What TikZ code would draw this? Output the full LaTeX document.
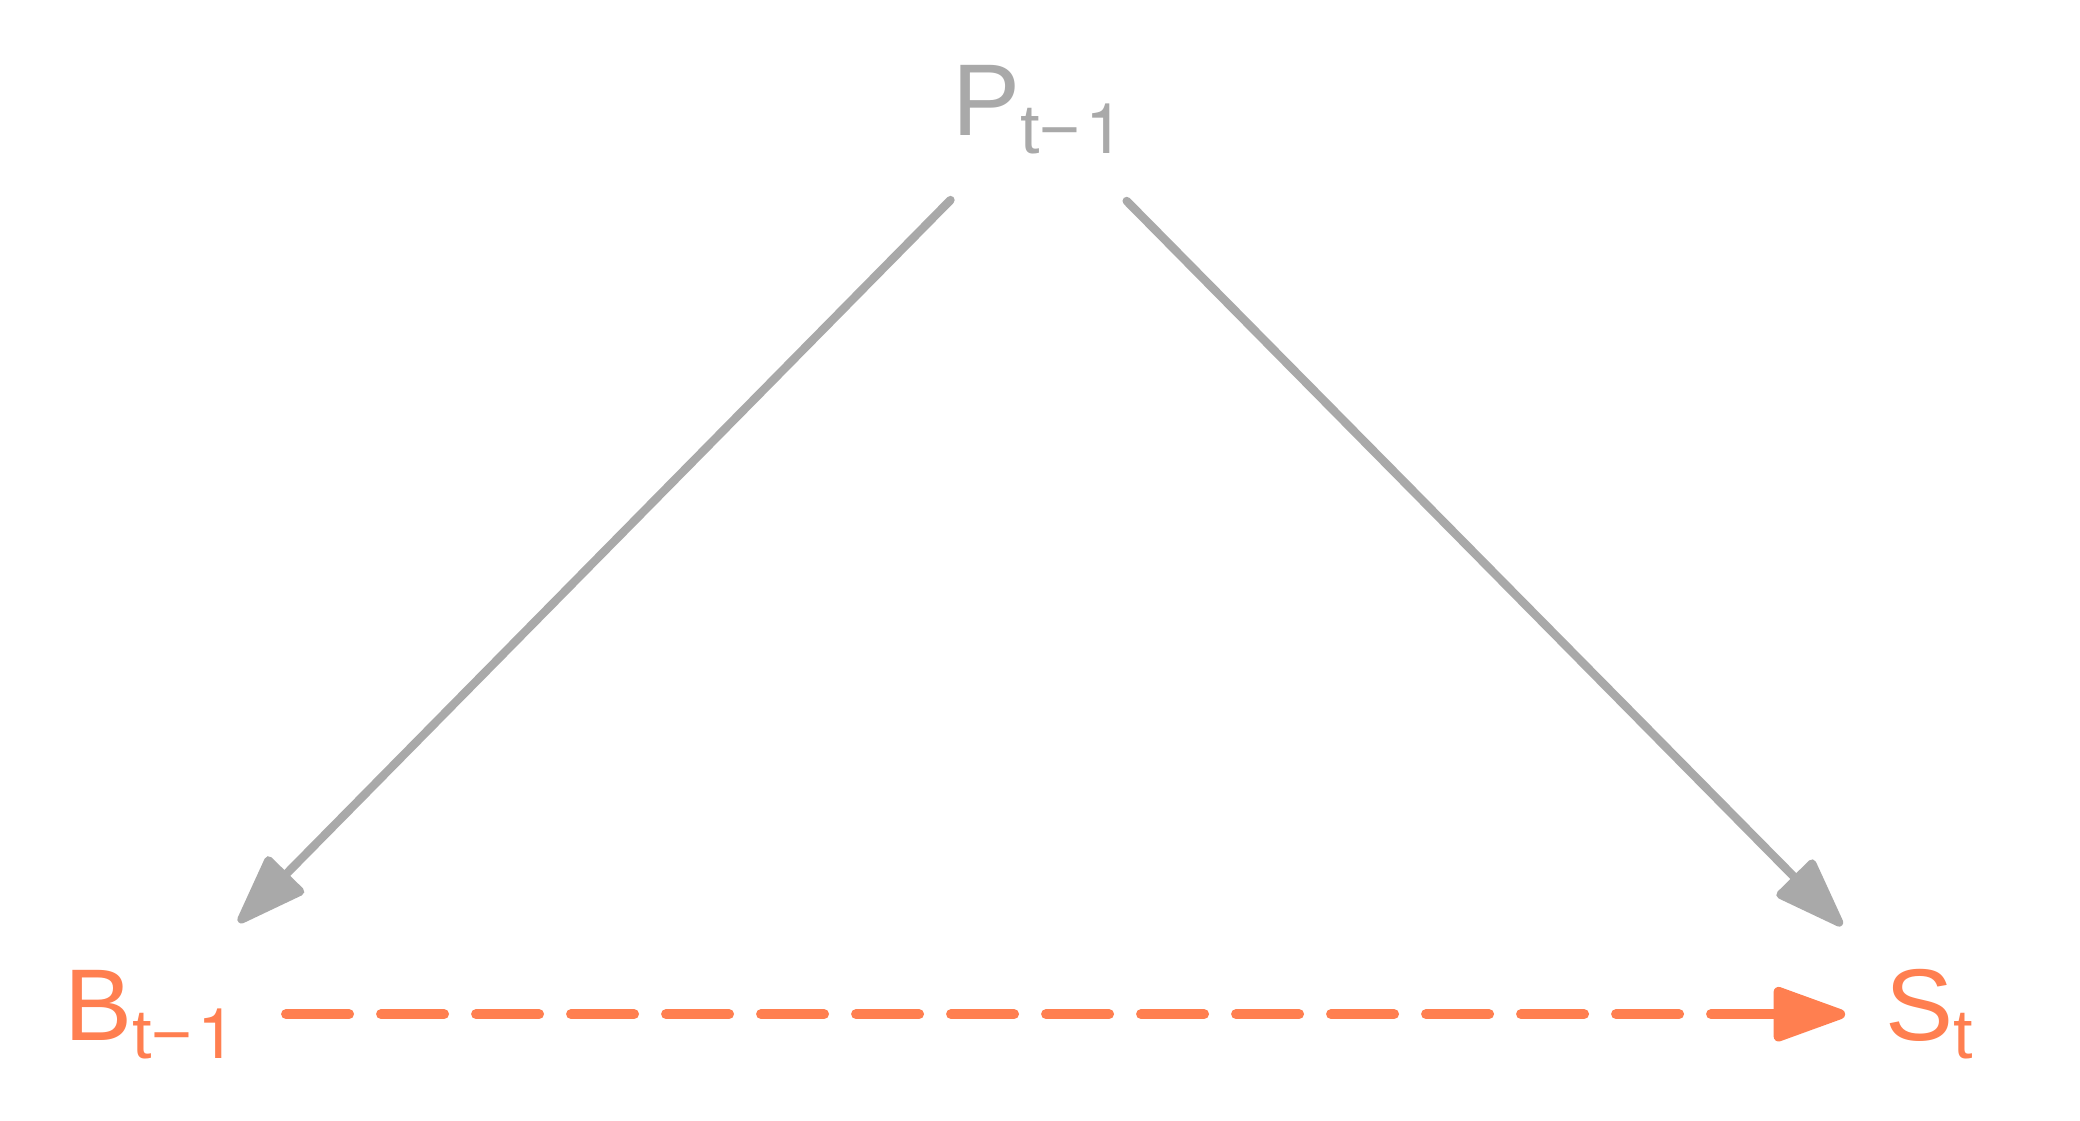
\documentclass[tikz,border=0pt]{standalone}
\usepackage{fontspec}
\setmainfont{Liberation Sans}
\newfontfamily\heros{TeX Gyre Heros}
\usetikzlibrary{arrows.meta}
\definecolor{edgegray}{HTML}{A9A9A9}
\definecolor{coral}{HTML}{FF7F50}
\newcommand{\subtext}[1]{\raisebox{-9pt}{\fontsize{35pt}{35pt}\selectfont #1}}
\newcommand{\subone}{\kern2.5pt{\heros 1}}
\tikzset{
  lbl/.style={inner sep=0pt, anchor=base west, font=\fontsize{51pt}{51pt}\selectfont},
  grayarrow/.style={draw=edgegray, line width=4.2pt, line cap=round,
    -{Triangle[length=39pt, width=27pt, round]}},
  dasharrow/.style={draw=coral, line width=5pt, line cap=round,
    dash pattern=on 31.5pt off 16pt,
    -{Triangle[length=41pt, width=28pt, round]}},
}
\begin{document}
\begin{tikzpicture}[x=0.5pt, y=-0.5pt]
\useasboundingbox (0,0) rectangle (2080,1120);
\fill[white] (0,0) rectangle (2080,1120);
\node[lbl, text=edgegray] (P) at (952,135) {P\subtext{t−\subone}};
\node[lbl, text=coral] (B) at (64,1040) {B\subtext{t−\subone}};
\node[lbl, text=coral] (S) at (1885,1040) {S\subtext{t}};
\draw[grayarrow, shorten <=63.8pt, shorten >=64.5pt] ([xshift=0.75pt]P.center) -- ([xshift=-1.25pt]B.center);
\draw[grayarrow, shorten <=64.5pt, shorten >=62pt] ([xshift=-1.25pt]P.center) -- (S.center);
\draw[dasharrow, shorten <=69pt, shorten >=42pt] ([xshift=-1.25pt]B.center) -- (B.center -| S.center);
\end{tikzpicture}
\end{document}
